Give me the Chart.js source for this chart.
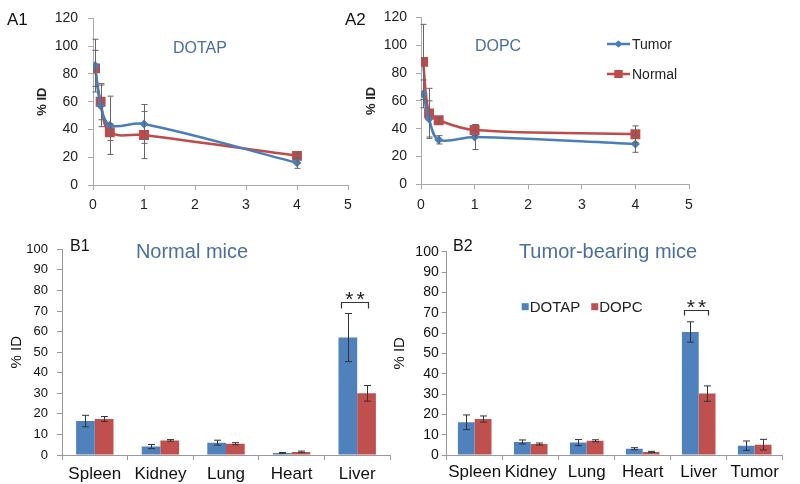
<!DOCTYPE html>
<html>
<head>
<meta charset="utf-8">
<script src="https://cdn.jsdelivr.net/npm/chart.js@4.4.0/dist/chart.umd.min.js"></script>
<style>
  body { margin: 0; background: #fff; width: 800px; height: 484px; position: relative; overflow: hidden;
         font-family: "Liberation Sans", Arial, sans-serif; }
  canvas { position: absolute; }
  .lbl { position: absolute; line-height: 1; white-space: nowrap; color: #111; }
  .ttl { color: #4a6f9f; transform: translateX(-50%); }
</style>
</head>
<body>
<canvas id="a1" width="360" height="220" style="left:0;top:0"></canvas>
<canvas id="a2" width="460" height="220" style="left:340px;top:0"></canvas>
<canvas id="b1" width="400" height="264" style="left:0;top:220px"></canvas>
<canvas id="b2" width="420" height="264" style="left:380px;top:220px"></canvas>

<div class="lbl" style="left:7px;top:10.5px;font-size:17px">A1</div>
<div class="lbl" style="left:345px;top:10.5px;font-size:17px">A2</div>
<div class="lbl ttl" style="left:200px;top:40px;font-size:16px">DOTAP</div>
<div class="lbl ttl" style="left:498px;top:38px;font-size:16px">DOPC</div>
<div class="lbl" style="left:70px;top:238px;font-size:16px">B1</div>
<div class="lbl" style="left:453px;top:238px;font-size:16px">B2</div>
<div class="lbl ttl" style="left:192px;top:241px;font-size:20px">Normal mice</div>
<div class="lbl ttl" style="left:608px;top:241px;font-size:20px">Tumor-bearing mice</div>

<script>
// time course (h) and % ID, A1 = DOTAP, A2 = DOPC
const times = [0.04, 0.15, 0.33, 1, 4];
const dotapTumor = [86, 57, 43, 44, 16];
const dotapTumorErr = [19, 15, 21, 14, 4];
const dotapNormal = [84, 60, 38, 36, 21];
const dotapNormalErr = [13, 13, 6, 17, 2];
const dopcTumor = [65, 47, 32, 34, 29];
const dopcTumorErr = [10, 13, 3, 9, 6];
const dopcNormal = [88, 51, 46, 39, 36];
const dopcNormalErr = [27, 18, 2, 4, 6];

// biodistribution
const organsNormal = ['Spleen', 'Kidney', 'Lung', 'Heart', 'Liver'];
const normalDotap = [16.5, 4.1, 6.0, 1.0, 57.1];
const normalDotapErr = [2.8, 1.0, 1.2, 0.2, 11.7];
const normalDopc = [17.5, 7.1, 5.5, 1.5, 30.0];
const normalDopcErr = [1.2, 0.4, 0.5, 0.4, 3.8];

const organsTumor = ['Spleen', 'Kidney', 'Lung', 'Heart', 'Liver', 'Tumor'];
const tumorDotap = [16.1, 6.4, 6.1, 3.1, 60.5, 4.6];
const tumorDotapErr = [3.6, 1.0, 1.5, 0.5, 5.0, 2.3];
const tumorDopc = [17.7, 5.4, 7.0, 1.5, 30.2, 5.1];
const tumorDopcErr = [1.5, 0.5, 0.5, 0.3, 3.8, 2.6];

// significance brackets (% ID level of bracket)
const sigB1 = 74.5;
const sigB2 = 71.3;

const FONT = '"Liberation Sans", Arial, sans-serif';
Chart.defaults.font.family = FONT;
Chart.defaults.animation = false;

const BLUE = '#4f81bd', RED = '#c0504d';
const LBLUE = '#4a7ebb', LRED = '#be4b48';

const pts = (xs, ys) => xs.map((x, i) => ({ x: x, y: ys[i] }));

const errorBars = {
  id: 'errorBars',
  afterDatasetsDraw(chart, args, opts) {
    const ctx = chart.ctx;
    const ys = chart.scales.y;
    ctx.save();
    ctx.strokeStyle = opts.color;
    ctx.lineWidth = 1;
    chart.data.datasets.forEach((ds, i) => {
      if (!ds.errors) return;
      chart.getDatasetMeta(i).data.forEach((el, j) => {
        const raw = ds.data[j];
        const v = typeof raw === 'object' ? raw.y : raw;
        const e = ds.errors[j];
        const x = Math.round(el.x) + 0.5;
        const top = ys.getPixelForValue(v + e);
        const bot = ys.getPixelForValue(Math.max(v - e, 0));
        ctx.beginPath();
        ctx.moveTo(x, top); ctx.lineTo(x, bot);
        ctx.moveTo(x - opts.cap, top); ctx.lineTo(x + opts.cap, top);
        ctx.moveTo(x - opts.cap, bot); ctx.lineTo(x + opts.cap, bot);
        ctx.stroke();
      });
    });
    ctx.restore();
  }
};

const sigBracket = {
  id: 'sigBracket',
  afterDatasetsDraw(chart, args, opts) {
    if (!opts || opts.level == null) return;
    const ctx = chart.ctx;
    const ys = chart.scales.y;
    const a = chart.getDatasetMeta(0).data[opts.index];
    const b = chart.getDatasetMeta(1).data[opts.index];
    const x1 = Math.round(a.x - a.width / 2 + 2) + 0.5;
    const x2 = Math.round(b.x + 1) + 0.5;
    const top = Math.round(ys.getPixelForValue(opts.level)) + 0.5;
    ctx.save();
    ctx.strokeStyle = '#333';
    ctx.lineWidth = 1.2;
    ctx.beginPath();
    ctx.moveTo(x1, top + opts.leg); ctx.lineTo(x1, top);
    ctx.lineTo(x2, top); ctx.lineTo(x2, top + opts.leg);
    ctx.stroke();
    ctx.fillStyle = '#222';
    ctx.font = '21px ' + FONT;
    ctx.textAlign = 'center';
    ctx.textBaseline = 'alphabetic';
    ctx.letterSpacing = '3px';
    ctx.fillText('**', (x1 + x2) / 2 + 1.5, top - 8.5 + 12);
    ctx.restore();
  }
};

const lineLegend = {
  id: 'lineLegend',
  afterDraw(chart, args, opts) {
    if (!opts || !opts.rows) return;
    const ctx = chart.ctx;
    ctx.save();
    chart.data.datasets.forEach((ds, i) => {
      const y = opts.rows[i];
      const x0 = opts.x;
      ctx.strokeStyle = ds.borderColor;
      ctx.lineWidth = 2.5;
      ctx.beginPath();
      ctx.moveTo(x0, y); ctx.lineTo(x0 + 23, y);
      ctx.stroke();
      ctx.fillStyle = ds.backgroundColor;
      Chart.helpers.drawPoint(ctx, { pointStyle: ds.pointStyle, radius: ds.pointRadius * 0.8, rotation: 0, borderWidth: 0 }, x0 + 11.5, y);
      ctx.fill();
      ctx.fillStyle = '#222';
      ctx.font = '14px ' + FONT;
      ctx.textAlign = 'left';
      ctx.textBaseline = 'middle';
      ctx.fillText(ds.label, x0 + 25, y + 1);
    });
    ctx.restore();
  }
};

const boxLegend = {
  id: 'boxLegend',
  afterDraw(chart, args, opts) {
    if (!opts || opts.x == null) return;
    const ctx = chart.ctx;
    ctx.save();
    ctx.font = '15px ' + FONT;
    ctx.textBaseline = 'middle';
    ctx.textAlign = 'left';
    let x = opts.x;
    chart.data.datasets.forEach((ds) => {
      ctx.fillStyle = ds.backgroundColor;
      ctx.fillRect(x, opts.y - 3.5, 7, 7);
      ctx.fillStyle = '#222';
      ctx.fillText(ds.label, x + 8, opts.y + 1);
      x += 8 + ctx.measureText(ds.label).width + 11;
    });
    ctx.restore();
  }
};

function lineChart(id, tumor, tumorErr, normal, normalErr, geo, legend) {
  return new Chart(document.getElementById(id), {
    type: 'scatter',
    data: {
      datasets: [
        { label: 'Tumor', data: pts(times, tumor), errors: tumorErr, showLine: true, tension: 0.35,
          borderColor: LBLUE, backgroundColor: LBLUE, borderWidth: 2.5,
          pointStyle: 'rectRot', pointRadius: 4.5, pointBorderWidth: 0 },
        { label: 'Normal', data: pts(times, normal), errors: normalErr, showLine: true, tension: 0.35,
          borderColor: LRED, backgroundColor: LRED, borderWidth: 2.5,
          pointStyle: 'rect', pointRadius: 7, pointBorderWidth: 0 }
      ]
    },
    options: {
      responsive: false,
      layout: { padding: { left: 0, top: 10, right: geo.right, bottom: 0 } },
      plugins: {
        legend: { display: false },
        tooltip: { enabled: false },
        errorBars: { color: '#666', cap: 3 },
        lineLegend: legend
      },
      scales: {
        x: {
          type: 'linear', min: 0, max: 5,
          ticks: { stepSize: 1, font: { size: 14 }, color: '#222', padding: 7 },
          grid: { drawOnChartArea: false, tickLength: 5, color: '#aaa' },
          border: { color: '#aaa' },
          afterFit: (s) => { s.height = geo.xh; }
        },
        y: {
          min: 0, max: 120,
          ticks: { stepSize: 20, font: { size: 14 }, color: '#222', padding: geo.tickPad },
          grid: { drawOnChartArea: false, tickLength: 5, color: '#aaa' },
          border: { color: '#aaa' },
          title: { display: true, text: '% ID', color: '#222', font: { size: 13, weight: 'bold' },
                   padding: { top: geo.titlePad, bottom: 0 } },
          afterFit: (s) => { s.width = geo.yw; }
        }
      }
    },
    plugins: [errorBars, lineLegend]
  });
}

function barChart(id, labels, dotap, dotapErr, dopc, dopcErr, geo, sigLevel, legend) {
  return new Chart(document.getElementById(id), {
    type: 'bar',
    data: {
      labels: labels,
      datasets: [
        { label: 'DOTAP', data: dotap, errors: dotapErr, backgroundColor: BLUE,
          categoryPercentage: geo.cat, barPercentage: 1 },
        { label: 'DOPC', data: dopc, errors: dopcErr, backgroundColor: RED,
          categoryPercentage: geo.cat, barPercentage: 1 }
      ]
    },
    options: {
      responsive: false,
      layout: { padding: { left: 0, top: geo.top, right: geo.right, bottom: 0 } },
      plugins: {
        legend: { display: false },
        tooltip: { enabled: false },
        errorBars: { color: '#333', cap: 3.5 },
        sigBracket: { index: 4, level: sigLevel, leg: geo.leg },
        boxLegend: legend
      },
      scales: {
        x: {
          ticks: { font: { size: 17 }, color: '#111', padding: geo.xPad,
                   maxRotation: 0, minRotation: 0, autoSkip: false },
          grid: { drawOnChartArea: false, tickLength: 5, offset: true, color: '#999' },
          border: { color: '#999' },
          afterFit: (s) => { s.height = 29; }
        },
        y: {
          min: 0, max: 100,
          ticks: { stepSize: 10, font: { size: geo.yFont }, color: '#111', padding: geo.tickPad },
          grid: { drawOnChartArea: false, tickLength: 5, color: '#999' },
          border: { color: '#999' },
          title: { display: true, text: '% ID', color: '#111', font: { size: 15 },
                   padding: { top: geo.titlePad, bottom: 0 } },
          afterFit: (s) => { s.width = geo.yw; }
        }
      }
    },
    plugins: [errorBars, sigBracket, boxLegend]
  });
}

lineChart('a1', dotapTumor, dotapTumorErr, dotapNormal, dotapNormalErr,
  { right: 12, xh: 35, yw: 93, tickPad: 10, titlePad: 35 }, {});
lineChart('a2', dopcTumor, dopcTumorErr, dopcNormal, dopcNormalErr,
  { right: 111, xh: 35.7, yw: 81, tickPad: 9, titlePad: 24 }, { x: 267, rows: [44, 74] });

barChart('b1', organsNormal, normalDotap, normalDotapErr, normalDopc, normalDopcErr,
  { cat: 0.57, top: 29.3, right: 10, yw: 62, tickPad: 9, titlePad: 8, yFont: 13, xPad: 4, leg: 6 },
  sigB1, {});
barChart('b2', organsTumor, tumorDotap, tumorDotapErr, tumorDopc, tumorDopcErr,
  { cat: 0.6, top: 31.7, right: 17.3, yw: 66.7, tickPad: 3, titlePad: 11, yFont: 14, xPad: 2, leg: 5 },
  sigB2, { x: 141.7, y: 86.7 });
</script>
</body>
</html>
